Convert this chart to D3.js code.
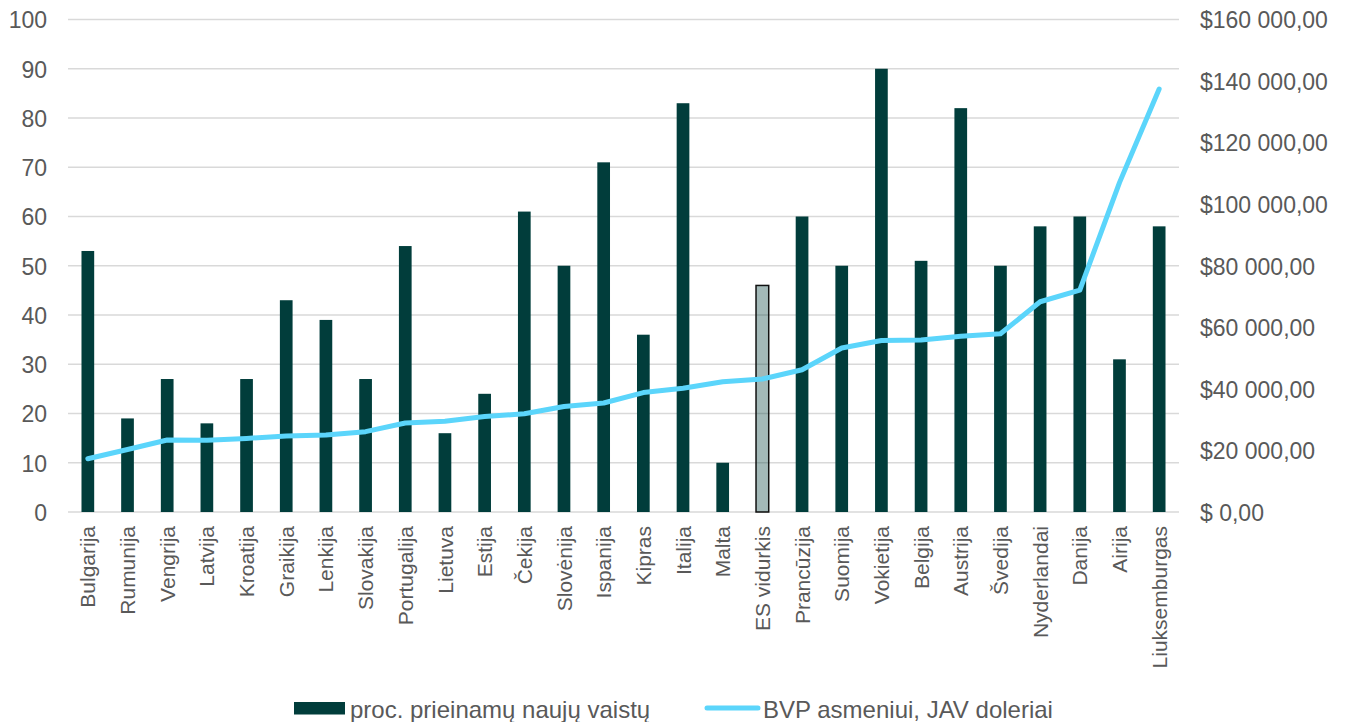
<!DOCTYPE html>
<html>
<head>
<meta charset="utf-8">
<script src="https://cdn.jsdelivr.net/npm/d3@7"></script>
<style>
  html, body { margin: 0; padding: 0; background: #ffffff; }
  svg { display: block; font-family: "Liberation Sans", Arial, sans-serif; }
</style>
</head>
<body>
<svg id="chart" width="1346" height="722"></svg>
<script>
const categories = ["Bulgarija","Rumunija","Vengrija","Latvija","Kroatija","Graikija","Lenkija","Slovakija","Portugalija","Lietuva","Estija","Čekija","Slovėnija","Ispanija","Kipras","Italija","Malta","ES vidurkis","Prancūzija","Suomija","Vokietija","Belgija","Austrija","Švedija","Nyderlandai","Danija","Airija","Liuksemburgas"];
const accessPct = [53,19,27,18,27,43,39,27,54,16,24,61,50,71,36,83,10,46,60,50,90,51,82,50,58,60,31,58];
const gdpPerCapita = [17300,20300,23400,23300,23900,24700,25000,26100,28900,29500,31000,31900,34300,35400,38800,40200,42300,43200,46200,53300,55700,55900,57100,57900,68300,72100,107000,137400];
const leftTicks = [0,10,20,30,40,50,60,70,80,90,100];
const rightTicks = [0,20000,40000,60000,80000,100000,120000,140000,160000];
const highlightCategory = "ES vidurkis";
const seriesNames = ["proc. prieinamų naujų vaistų", "BVP asmeniui, JAV doleriai"];

const svg = d3.select("#chart");
const mLeft = 68, mRight = 1179, mTop = 19.5, mBottom = 512;
const textColor = "#595959";
const barColor = "#013d3b";
const lineColor = "#5bd5fb";

const x = d3.scaleBand().domain(categories).range([mLeft, mRight]).paddingInner(0.68).paddingOuter(0.34);
const yL = d3.scaleLinear().domain([0, 100]).range([mBottom, mTop]);
const yR = d3.scaleLinear().domain([0, 160000]).range([mBottom, mTop]);

// gridlines
svg.append("g").selectAll("line").data(leftTicks).join("line")
  .attr("x1", mLeft).attr("x2", mRight)
  .attr("y1", d => yL(d)).attr("y2", d => yL(d))
  .attr("stroke", "#d9d9d9").attr("stroke-width", 1.5);

// left axis
const axL = svg.append("g").attr("transform", `translate(${mLeft},0)`)
  .call(d3.axisLeft(yL).tickValues(leftTicks).tickSize(0).tickPadding(21));
axL.select(".domain").remove();
axL.selectAll("text").attr("fill", textColor).style("font-size", "23px").attr("dy", "0.36em");

// right axis
const fmtMoney = d => {
  if (d === 0) return "$ 0,00";
  const s = String(d).replace(/\B(?=(\d{3})+(?!\d))/g, " ");
  return "$" + s + ",00";
};
const axR = svg.append("g").attr("transform", `translate(${mRight},0)`)
  .call(d3.axisRight(yR).tickValues(rightTicks).tickSize(0).tickPadding(21).tickFormat(fmtMoney));
axR.select(".domain").remove();
axR.selectAll("text").attr("fill", textColor).style("font-size", "23px").attr("dy", "0.36em");

// bars
svg.append("g").selectAll("rect").data(categories).join("rect")
  .attr("x", d => x(d))
  .attr("width", x.bandwidth())
  .attr("y", (d, i) => yL(accessPct[i]))
  .attr("height", (d, i) => yL(0) - yL(accessPct[i]))
  .attr("fill", d => d === highlightCategory ? "rgba(1,61,59,0.36)" : barColor)
  .attr("stroke", d => d === highlightCategory ? "#111" : "none")
  .attr("stroke-width", d => d === highlightCategory ? 1.5 : 0);

// bottom axis labels
const axB = svg.append("g").attr("transform", `translate(0,${mBottom})`)
  .call(d3.axisBottom(x).tickSize(0).tickPadding(0));
axB.select(".domain").remove();
axB.selectAll("text")
  .attr("fill", textColor).style("font-size", "21px")
  .attr("transform", "rotate(-90)")
  .attr("text-anchor", "end")
  .attr("x", -14).attr("y", 0).attr("dy", "0.36em");

// line
const line = d3.line()
  .x((d, i) => x(categories[i]) + x.bandwidth() / 2)
  .y(d => yR(d));
svg.append("path").datum(gdpPerCapita)
  .attr("d", line)
  .attr("fill", "none").attr("stroke", lineColor)
  .attr("stroke-width", 5).attr("stroke-linecap", "round").attr("stroke-linejoin", "round");

// legend
const lg = svg.append("g");
lg.append("rect").attr("x", 294).attr("y", 702).attr("width", 51).attr("height", 12.5).attr("fill", barColor);
lg.append("text").attr("x", 350).attr("y", 718).attr("fill", textColor).style("font-size", "24px").text(seriesNames[0]);
lg.append("line").attr("x1", 707).attr("x2", 758).attr("y1", 708).attr("y2", 708)
  .attr("stroke", lineColor).attr("stroke-width", 5).attr("stroke-linecap", "round");
lg.append("text").attr("x", 763).attr("y", 718).attr("fill", textColor).style("font-size", "24px").text(seriesNames[1]);
</script>
</body>
</html>
